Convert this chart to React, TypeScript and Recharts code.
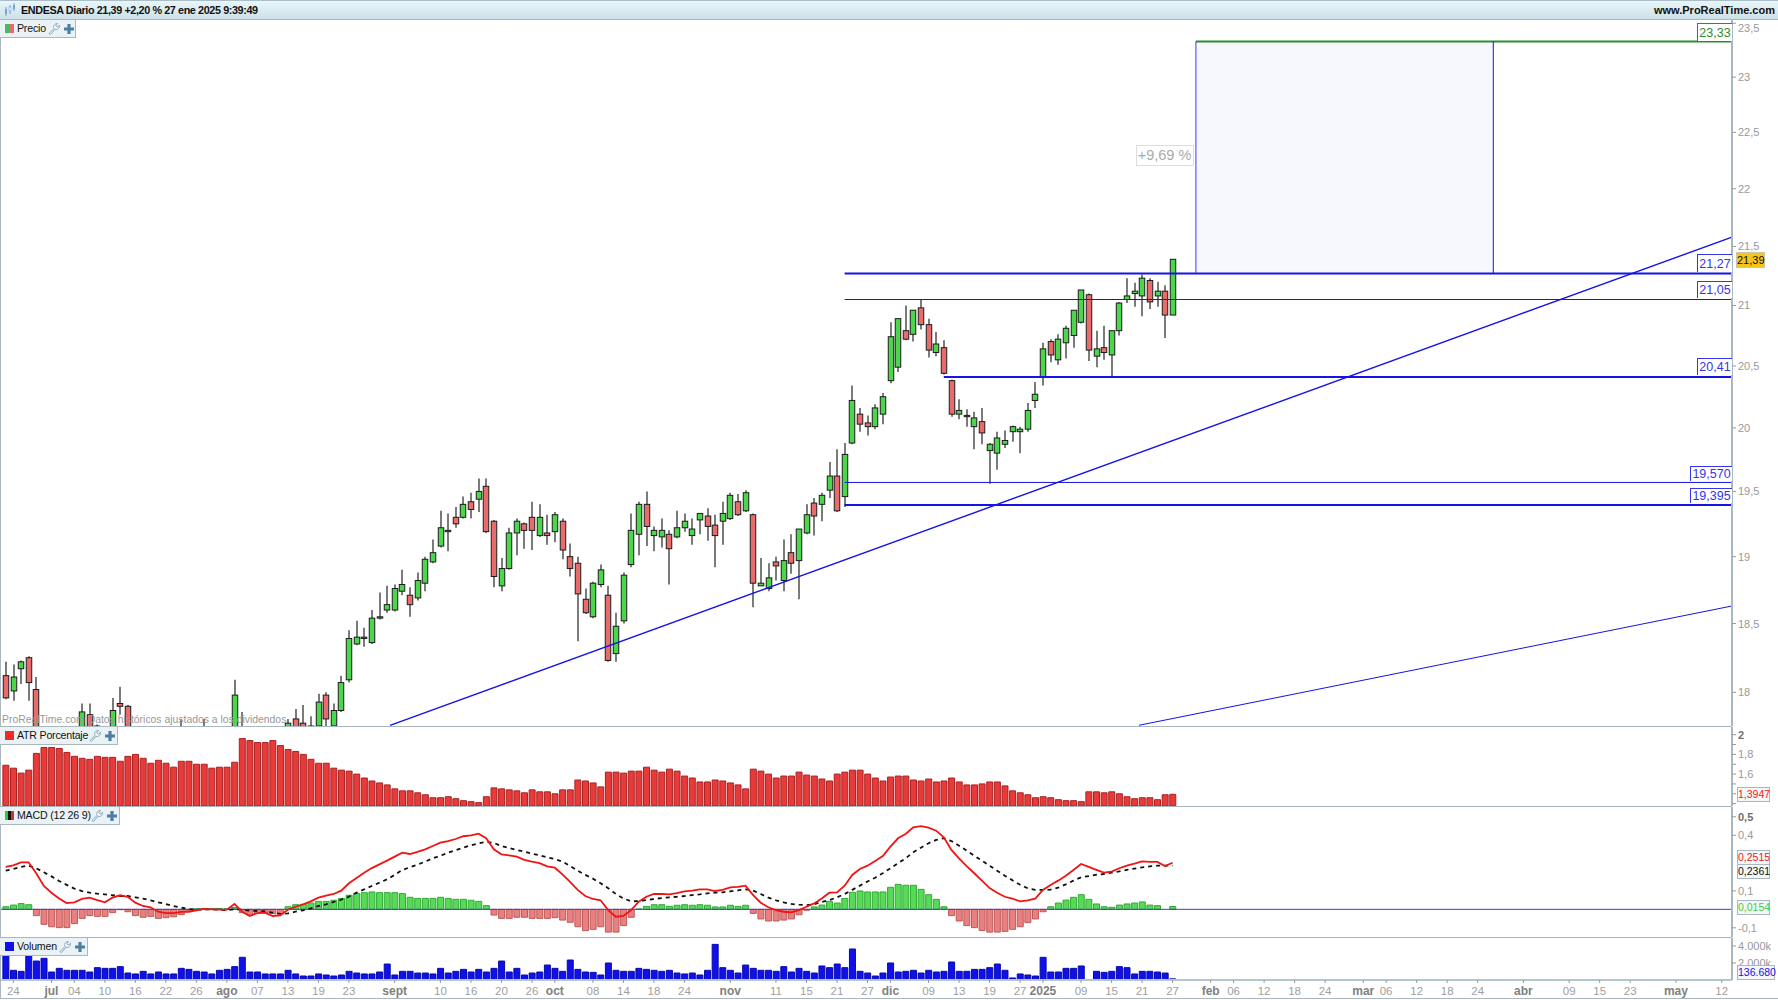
import React from "react";
import { ComposedChart, Bar, Line, XAxis, YAxis, Cell, ReferenceLine, ReferenceArea } from "recharts";

const opens = [
  18.12,18.01,18.17,18.25,18.02,17.60,17.50,17.55,17.45,17.52,
  17.70,17.84,17.76,17.65,17.62,17.92,17.90,17.70,17.60,17.55,
  17.62,17.58,17.66,17.58,17.70,17.62,17.60,17.72,17.66,17.60,
  17.68,17.72,17.66,17.60,17.56,17.62,17.60,17.68,17.81,17.78,
  17.70,17.76,17.98,17.76,17.87,18.09,18.35,18.39,18.36,18.54,
  18.60,18.60,18.74,18.71,18.69,18.80,18.96,19.08,19.19,19.30,
  19.30,19.42,19.44,19.54,19.27,18.78,18.91,19.18,19.25,19.30,
  19.16,19.18,19.19,19.27,19.00,18.95,18.68,18.55,18.79,18.71,
  18.28,18.52,18.94,19.17,19.40,19.16,19.15,19.17,19.15,19.22,
  19.16,19.28,19.31,19.24,19.27,19.29,19.42,19.35,19.32,18.78,
  18.76,18.96,18.82,19.03,18.97,19.18,19.41,19.40,19.51,19.62,
  19.46,19.88,20.11,20.04,20.01,20.11,20.38,20.49,20.79,20.76,
  20.98,20.84,20.61,20.65,20.38,20.11,20.09,20.01,20.05,19.82,
  19.80,19.87,19.97,19.97,19.99,20.22,20.41,20.70,20.55,20.69,
  20.75,20.86,21.09,20.58,20.65,20.59,20.79,21.05,21.10,21.08,
  21.21,21.08,21.12,20.92,
];
const closes = [
  17.96,18.11,18.22,18.07,17.65,17.50,17.55,17.45,17.52,17.60,
  17.86,17.75,17.68,17.60,17.87,17.90,17.70,17.60,17.55,17.62,
  17.58,17.66,17.60,17.70,17.62,17.60,17.72,17.66,17.60,17.66,
  17.98,17.66,17.60,17.56,17.62,17.60,17.66,17.78,17.70,17.68,
  17.76,17.93,17.81,17.87,18.07,18.39,18.40,18.40,18.54,18.55,
  18.64,18.76,18.79,18.64,18.82,18.98,19.03,19.22,19.20,19.25,
  19.40,19.36,19.50,19.19,18.85,18.91,19.18,19.27,19.20,19.20,
  19.30,19.16,19.32,19.05,18.91,18.72,18.58,18.80,18.90,18.23,
  18.48,18.86,19.20,19.40,19.23,19.20,19.20,19.06,19.22,19.27,
  19.21,19.33,19.23,19.16,19.33,19.47,19.32,19.49,18.80,18.80,
  18.84,18.93,18.97,18.95,19.21,19.32,19.31,19.47,19.62,19.35,
  19.79,20.22,20.03,20.01,20.16,20.25,20.74,20.89,20.72,20.96,
  20.84,20.63,20.68,20.44,20.11,20.14,20.10,20.08,19.96,19.87,
  19.92,19.90,20.01,19.99,20.14,20.27,20.64,20.59,20.72,20.81,
  20.96,21.13,20.63,20.64,20.61,20.79,21.02,21.08,21.12,21.23,
  21.03,21.12,20.92,21.39,
];
const highs = [
  18.22,18.20,18.23,18.26,18.11,17.68,17.60,17.62,17.58,17.66,
  17.92,17.92,17.77,17.72,17.96,18.04,17.91,17.74,17.70,17.68,
  17.72,17.70,17.73,17.81,17.75,17.70,17.81,17.74,17.73,17.70,
  18.09,17.86,17.72,17.70,17.68,17.72,17.70,17.81,17.88,17.91,
  17.83,17.99,18.00,17.92,18.12,18.45,18.52,18.47,18.60,18.73,
  18.78,18.79,18.90,18.77,18.88,19.00,19.13,19.35,19.33,19.38,
  19.46,19.49,19.60,19.60,19.28,18.99,19.22,19.29,19.26,19.42,
  19.40,19.32,19.34,19.29,19.10,19.00,18.76,18.81,18.94,18.78,
  18.58,18.88,19.33,19.42,19.50,19.23,19.29,19.20,19.35,19.33,
  19.29,19.33,19.37,19.32,19.42,19.49,19.48,19.51,19.33,18.99,
  18.95,19.00,19.13,19.17,19.21,19.40,19.45,19.49,19.73,19.83,
  19.88,20.34,20.16,20.10,20.19,20.28,20.86,20.89,21.00,20.96,
  21.05,20.89,20.78,20.71,20.39,20.23,20.15,20.13,20.16,19.88,
  19.97,19.98,20.02,20.01,20.20,20.37,20.69,20.72,20.76,20.83,
  20.96,21.13,21.10,20.79,20.83,20.79,21.03,21.23,21.19,21.26,
  21.23,21.20,21.17,21.39,
];
const lows = [
  17.95,17.94,18.06,17.94,17.60,17.45,17.40,17.42,17.38,17.44,
  17.65,17.70,17.60,17.55,17.58,17.84,17.66,17.55,17.50,17.48,
  17.52,17.50,17.55,17.50,17.55,17.52,17.55,17.60,17.55,17.50,
  17.62,17.60,17.55,17.50,17.48,17.52,17.50,17.62,17.65,17.62,
  17.64,17.72,17.70,17.75,17.86,18.07,18.34,18.33,18.35,18.53,
  18.58,18.59,18.71,18.55,18.67,18.74,18.95,19.07,19.04,19.22,
  19.29,19.29,19.34,19.18,18.77,18.74,18.90,19.01,19.06,19.05,
  19.15,19.09,19.11,18.98,18.85,18.37,18.57,18.54,18.77,18.22,
  18.22,18.50,18.92,19.01,19.08,19.04,19.07,18.79,19.14,19.19,
  19.09,19.17,19.12,18.92,19.09,19.28,19.31,19.34,18.62,18.78,
  18.74,18.82,18.74,18.87,18.68,19.17,19.16,19.27,19.45,19.34,
  19.38,19.87,19.97,19.94,19.99,20.03,20.36,20.45,20.71,20.70,
  20.80,20.57,20.58,20.43,20.09,20.07,20.01,19.83,19.87,19.56,
  19.67,19.84,19.89,19.80,19.97,20.16,20.34,20.53,20.51,20.56,
  20.65,20.85,20.54,20.49,20.55,20.41,20.75,21.02,20.99,20.91,
  20.97,20.99,20.73,20.92,
];
const atrValues = [
  1.69,1.66,1.61,1.64,1.81,1.87,1.87,1.86,1.82,1.78,
  1.76,1.75,1.78,1.77,1.77,1.73,1.78,1.80,1.76,1.71,
  1.74,1.71,1.67,1.73,1.73,1.70,1.70,1.66,1.67,1.67,
  1.72,1.96,1.94,1.92,1.92,1.94,1.89,1.85,1.83,1.80,
  1.75,1.71,1.71,1.66,1.64,1.63,1.60,1.56,1.53,1.51,
  1.49,1.45,1.43,1.43,1.41,1.39,1.36,1.36,1.37,1.35,
  1.33,1.32,1.31,1.37,1.46,1.45,1.44,1.43,1.41,1.44,
  1.42,1.42,1.40,1.44,1.44,1.54,1.53,1.51,1.47,1.62,
  1.62,1.61,1.63,1.63,1.67,1.64,1.62,1.65,1.63,1.58,
  1.56,1.52,1.52,1.54,1.53,1.51,1.49,1.45,1.65,1.63,
  1.60,1.56,1.58,1.58,1.62,1.59,1.58,1.55,1.53,1.60,
  1.62,1.64,1.64,1.60,1.56,1.53,1.57,1.58,1.58,1.54,
  1.53,1.55,1.52,1.53,1.56,1.52,1.49,1.49,1.50,1.52,
  1.52,1.48,1.43,1.41,1.39,1.36,1.37,1.36,1.34,1.33,
  1.33,1.32,1.42,1.42,1.41,1.42,1.40,1.37,1.35,1.36,
  1.36,1.34,1.39,1.3947,
];
const macdValues = [
  .229,.238,.254,.254,.195,.126,.090,.059,.034,.038,
  .056,.063,.050,.038,.063,.076,.068,.036,.018,.011,
  -.013,-.020,-.020,-.014,-.013,-.005,.002,0,-.002,-.002,
  .029,-.013,-.036,-.020,-.018,-.036,-.032,-.002,.014,.027,
  .043,.063,.074,.083,.101,.141,.169,.198,.223,.243,
  .263,.285,.306,.299,.310,.324,.342,.360,.369,.380,
  .395,.400,.409,.384,.324,.297,.292,.285,.267,.258,
  .250,.232,.225,.189,.148,.105,.072,.056,.049,-.004,
  -.040,-.036,-.004,.041,.068,.083,.083,.081,.088,.097,
  .101,.108,.108,.099,.105,.119,.121,.128,.077,.036,
  .011,-.004,-.013,-.016,-.004,.014,.032,.059,.090,.092,
  .128,.186,.218,.236,.261,.288,.339,.384,.407,.443,
  .450,.441,.425,.389,.321,.276,.234,.195,.155,.115,
  .090,.068,.058,.043,.049,.058,.105,.132,.155,.182,
  .213,.245,.229,.213,.198,.204,.222,.236,.247,.259,
  .256,.256,.234,.2515,
];
const signalValues = [
  .209,.218,.229,.236,.222,.200,.178,.153,.132,.112,
  .099,.090,.085,.081,.076,.072,.072,.065,.058,.049,
  .038,.029,.018,.009,.002,-.002,-.002,0,-.002,-.004,
  0,-.002,-.007,-.009,-.011,-.018,-.025,-.022,-.013,-.005,
  .005,.018,.027,.040,.052,.068,.090,.108,.126,.144,
  .162,.186,.213,.227,.241,.258,.276,.290,.306,.319,
  .333,.346,.357,.364,.359,.342,.332,.321,.312,.301,
  .292,.281,.272,.258,.234,.209,.186,.166,.141,.114,
  .083,.059,.043,.045,.050,.056,.061,.065,.068,.072,
  .077,.081,.086,.090,.092,.097,.103,.108,.101,.083,
  .063,.049,.038,.029,.025,.023,.027,.040,.050,.065,
  .083,.105,.128,.150,.171,.195,.222,.249,.276,.308,
  .333,.357,.375,.384,.369,.344,.317,.290,.263,.236,
  .209,.182,.157,.133,.114,.105,.105,.106,.117,.135,
  .155,.173,.180,.187,.191,.198,.205,.213,.220,.227,
  .232,.236,.236,.2361,
];
const histValues = [
  .014,.023,.031,.025,-.034,-.081,-.094,-.099,-.099,-.077,
  -.049,-.034,-.038,-.038,-.018,-.002,-.013,-.034,-.043,-.038,
  -.049,-.045,-.04,-.029,-.009,.003,.005,.003,.005,.003,
  .01,-.018,-.031,-.022,-.018,-.023,-.025,.014,.025,.027,
  .034,.043,.043,.049,.059,.076,.086,.09,.094,.09,
  .09,.09,.085,.065,.059,.059,.059,.065,.059,.054,
  .054,.049,.043,.02,-.031,-.049,-.049,-.043,-.043,-.049,
  -.049,-.049,-.045,-.058,-.07,-.094,-.115,-.108,-.094,-.123,
  -.123,-.088,-.043,.002,.016,.025,.025,.016,.022,.025,
  .022,.025,.022,.013,.013,.022,.016,.022,-.022,-.052,
  -.063,-.063,-.058,-.052,-.029,-.005,.013,.023,.043,.034,
  .059,.092,.099,.094,.094,.094,.119,.135,.13,.13,
  .108,.079,.054,.014,-.034,-.063,-.088,-.099,-.114,-.123,
  -.123,-.119,-.108,-.094,-.072,-.052,-.013,.014,.034,.05,
  .065,.079,.054,.029,.014,.011,.023,.029,.034,.04,
  .023,.02,0,.0154,
];
const volumeValues = [
  2860,1140,1020,2860,2230,2550,940,1370,1140,1140,
  1140,940,1450,1370,1370,1570,820,710,1020,710,
  940,710,710,1370,1250,1020,940,710,1140,1250,
  1570,2670,940,940,710,710,710,1140,710,470,
  470,710,590,470,590,1020,820,710,710,940,
  1880,590,1020,1020,820,820,710,1370,820,1020,
  1250,940,1250,940,1370,2230,940,1370,590,820,
  940,1760,1370,1020,2350,1250,940,900,590,2000,
  1140,1020,1020,1370,1250,1140,1020,1140,820,710,
  820,590,1140,4190,1450,1140,820,1760,1370,1140,
  1140,1020,1570,940,1370,1020,820,1650,1450,1880,
  1450,3650,1020,820,470,820,2000,940,1020,1140,
  820,1140,940,1020,2120,1020,1020,1250,1250,1450,
  1880,1140,240,710,590,470,2670,940,940,1370,
  1370,1650,40,1020,900,1020,1570,1450,710,1020,
  1020,940,820,136.68,
];

const xTickIndex = [1,6,9,13,17,21,25,29,33,37,41,45,51,57,61,65,69,72,77,81,85,89,95,101,105,109,113,116,121,125,129,133,136,141,145,149,153,158,161,165,169,173,178,181,185,189,193,199,205,209,213,219,225];
const xTickText = ["24","jul","04","10","16","22","26","ago","07","13","19","23","sept","10","16","20","26","oct","08","14","18","24","nov","11","15","21","27","dic","09","13","19","27","2025","09","15","21","27","feb","06","12","18","24","mar","06","12","18","24","abr","09","15","23","may","12"];
const boldTicks = ["jul","ago","sept","oct","nov","dic","2025","feb","mar","abr","may"];

const priceTicks = [18,18.5,19,19.5,20,20.5,21,21.5,22,22.5,23,23.5];
const atrTicks = [1.3,1.4,1.5,1.6,1.7,1.8,1.9,2];
const atrLabelled = [1.6,1.8,2];
const macdTicks = [-0.1,0.1,0.4,0.5];
const volTicks = [2000,4000];

const priceDomain = [17.76, 23.53];
const xDomain = [-0.747, 226.35];
const lastX = xDomain[1];

const levelStart = 110;
const levels = [
  { v: 21.27, w: 2, from: levelStart },
  { v: 21.05, w: 1, from: levelStart },
  { v: 20.41, w: 2, from: 123 },
  { v: 19.57, w: 1, from: levelStart },
  { v: 19.395, w: 2, from: levelStart },
];
const targetHigh = 23.33;
const targetLow = 21.27;
const targetFrom = 156.06;
const targetTo = 195.05;

const candleRows = opens.map((o, i) => ({ i, open: o, high: highs[i], low: lows[i], close: closes[i], range: [lows[i], highs[i]] }));
const atrRows = atrValues.map((v, i) => ({ i, v }));
const macdRows = macdValues.map((m, i) => ({ i, macd: m, signal: signalValues[i], hist: histValues[i] }));
const volRows = volumeValues.map((v, i) => ({ i, v }));

const FONT = "'Liberation Sans', Arial, sans-serif";
const W = 1778;
const AXIS = "#A9B8BE";

function Candle(props: any) {
  const { x, y, width, height, payload } = props;
  if (!payload) return null;
  const top = Math.min(y, y + height);
  const H = Math.abs(height);
  const span = Math.log(payload.high) - Math.log(payload.low);
  const at = (v: number) => top + (H * (Math.log(payload.high) - Math.log(v))) / span;
  const cx = Math.round(x + width / 2);
  const up = payload.close >= payload.open;
  const bodyTop = at(Math.max(payload.open, payload.close));
  const bodyBottom = at(Math.min(payload.open, payload.close));
  return (
    <g>
      <line x1={cx} x2={cx} y1={top} y2={top + H} stroke="#222" strokeWidth={1.2} />
      <rect x={cx - 2.75} y={bodyTop} width={5.5} height={Math.max(bodyBottom - bodyTop, 0.6)} fill={up ? "#4BD64B" : "#E96C6C"} stroke="#1c1c1c" strokeWidth={1} />
    </g>
  );
}

function XTick(props: any) {
  const { x, y, payload } = props;
  const label = xTickText[xTickIndex.indexOf(payload.value)];
  const bold = boldTicks.includes(label);
  return (
    <text x={x} y={y + 10} textAnchor="middle" fontFamily={FONT} fontSize={bold ? 12 : 11.5} fontWeight={bold ? 700 : 400} fill={bold ? "#808080" : "#A0A0A0"}>
      {label}
    </text>
  );
}

function YTick(props: any) {
  const { x, y, payload, labelled, boldValue, format, clampTop } = props;
  const v = payload.value;
  if (labelled && !labelled.includes(v)) return null;
  const bold = v === boldValue;
  const ty = clampTop && y < 8 ? y + 9 : y + 4;
  return (
    <text x={x} y={ty} fontFamily={FONT} fontSize={11} fontWeight={bold ? 700 : 400} fill={bold ? "#707070" : "#999"}>
      {format ? format(v) : String(v).replace(".", ",")}
    </text>
  );
}

function Wrench() {
  return (
    <svg width="13" height="13" viewBox="0 0 13 13" style={{ position: "absolute", top: 2 }}>
      <path d="M1 11.5 L6 6.5 C5 4 6.5 1.5 9.5 1.5 L7.8 3.6 L9.2 5.2 L11.5 3.4 C11.8 6.4 9.5 8 7 7.2 L2.5 12.5 Z" fill="#fff" stroke="#7FA3BB" strokeWidth="1" />
    </svg>
  );
}
function Plus() {
  return (
    <svg width="10" height="10" viewBox="0 0 10 10" style={{ position: "absolute", top: 3.5 }}>
      <path d="M3.4 0 H6.6 V3.4 H10 V6.6 H6.6 V10 H3.4 V6.6 H0 V3.4 H3.4 Z" fill="#4E7FA3" />
    </svg>
  );
}

function Legend({ top, width, text, textWidth, icon }: any) {
  return (
    <div style={{ position: "absolute", left: 0, top, width, height: 17, background: "#EAF2F5", borderRight: "1px solid #A9B8BE", borderBottom: "1px solid #A9B8BE", zIndex: 5 }}>
      <div style={{ position: "absolute", left: 5, top: 4, width: 9, height: 9, display: "flex" }}>{icon}</div>
      <span style={{ position: "absolute", left: 17, top: 2, font: `10.6px ${FONT}`, letterSpacing: "-0.2px", color: "#111", whiteSpace: "nowrap" }}>{text}</span>
      <div style={{ position: "absolute", left: textWidth + 20, top: 0 }}><Wrench /></div>
      <div style={{ position: "absolute", left: textWidth + 36, top: 0 }}><Plus /></div>
    </div>
  );
}

function Swatch({ colors }: any) {
  return <>{colors.map((c: string, k: number) => <span key={k} style={{ flex: 1, background: c, height: 9 }} />)}</>;
}

function LevelTag({ top, left, height, text, color }: any) {
  return (
    <div style={{ position: "absolute", left, top, width: 1732 - left, height, background: "#fff", border: `1px solid ${color}`, borderRight: "none", borderBottom: "none", boxSizing: "border-box", font: `12.5px ${FONT}`, color, textAlign: "center", lineHeight: `${height}px`, zIndex: 4 }}>
      {text}
    </div>
  );
}

function ValueTag({ top, width, text, color }: any) {
  return (
    <div style={{ position: "absolute", left: 1737, top, width, height: 15, background: "#F4F6F7", border: "1px solid #A9B8BE", boxSizing: "border-box", font: `10.5px ${FONT}`, color, textAlign: "center", lineHeight: "13px", zIndex: 4 }}>
      {text}
    </div>
  );
}

function Panel({ top, height, children }: any) {
  return <div style={{ position: "absolute", left: 0, top, width: W, height, overflow: "hidden" }}>{children}</div>;
}

const hiddenX = <XAxis type="number" dataKey="i" domain={xDomain} allowDataOverflow hide />;

export default function App() {
  return (
    <div style={{ position: "absolute", left: 0, top: 0, width: W, height: 1000, background: "#fff", overflow: "hidden", fontFamily: FONT }}>
      <style>{"html,body{margin:0;overflow:hidden}"}</style>

      <div style={{ position: "absolute", left: 0, top: 0, width: W, height: 20, background: "linear-gradient(#E9F6FA,#CCE1E8)", borderTop: "1px solid #A9BEC8", borderBottom: "1px solid #A9B8BE", boxSizing: "border-box", zIndex: 6 }}>
        <svg width="14" height="14" style={{ position: "absolute", left: 4, top: 2 }} viewBox="0 0 14 14">
          <path d="M2 4V13M6 2V11M10 0V8" stroke="#6FA3D8" strokeWidth="1" />
          <rect x="1" y="6" width="2" height="5" fill="#6FA3D8" /><rect x="5" y="4" width="2" height="4" fill="#fff" stroke="#6FA3D8" strokeWidth=".6" /><rect x="9" y="2" width="2" height="4" fill="#6FA3D8" />
        </svg>
        <span style={{ position: "absolute", left: 21, top: 3, font: `bold 10.8px ${FONT}`, letterSpacing: "-0.39px", color: "#111", whiteSpace: "nowrap" }}>ENDESA Diario 21,39 +2,20 % 27 ene 2025 9:39:49</span>
        <span style={{ position: "absolute", right: 3, top: 3, font: `bold 11px ${FONT}`, color: "#111" }}>www.ProRealTime.com</span>
      </div>

      <Panel top={20} height={706}>
        <ComposedChart width={W} height={706} data={candleRows} margin={{ top: 0, right: 0, bottom: 0, left: 0 }}>
          {hiddenX}
          <YAxis orientation="right" width={46} type="number" scale="log" domain={priceDomain} allowDataOverflow ticks={priceTicks} interval={0} axisLine={{ stroke: AXIS, strokeWidth: 2 }} tickLine={{ stroke: "#999" }} tickSize={4} tick={<YTick clampTop />} />
          <ReferenceArea x1={targetFrom} x2={targetTo} y1={targetLow} y2={targetHigh} fill="#F7F8FE" fillOpacity={1} stroke="none" />
          <Bar dataKey="range" barSize={6} shape={<Candle />} isAnimationActive={false} />
          {levels.map((l) => (
            <ReferenceLine key={l.v} segment={[{ x: l.from, y: l.v }, { x: lastX, y: l.v }]} stroke="#1414E6" strokeWidth={l.w} />
          ))}
          <ReferenceLine segment={[{ x: targetFrom, y: targetHigh }, { x: lastX, y: targetHigh }]} stroke="#2E8B2E" strokeWidth={2} />
          <ReferenceLine segment={[{ x: targetFrom, y: targetLow }, { x: targetFrom, y: targetHigh }]} stroke="#3A3AF0" strokeWidth={1} />
          <ReferenceLine segment={[{ x: targetTo, y: targetLow }, { x: targetTo, y: targetHigh }]} stroke="#1414E6" strokeWidth={1} />
          <ReferenceLine segment={[{ x: 50.4, y: 17.765 }, { x: lastX, y: 21.58 }]} stroke="#1414E6" strokeWidth={1.4} />
          <ReferenceLine segment={[{ x: 148.6, y: 17.765 }, { x: lastX, y: 18.63 }]} stroke="#1414E6" strokeWidth={1} />
        </ComposedChart>
      </Panel>

      <div style={{ position: "absolute", left: 2, top: 714, font: `10.4px ${FONT}`, color: "#999", whiteSpace: "nowrap", zIndex: 3 }}>ProRealTime.com Datos históricos ajustados a los dividendos</div>

      <div style={{ position: "absolute", left: 1135.5, top: 145, width: 58, height: 21, border: "1px solid #DDD", boxSizing: "border-box", background: "#fff", font: `14.5px ${FONT}`, color: "#AAA", textAlign: "center", lineHeight: "19px", zIndex: 4 }}>+9,69 %</div>
      <LevelTag left={1697} top={23} height={18} text="23,33" color="#2E8B2E" />
      <LevelTag left={1697} top={254} height={18} text="21,27" color="#3535EE" />
      <LevelTag left={1697} top={281} height={17} text="21,05" color="#3535EE" />
      <LevelTag left={1697} top={358} height={17} text="20,41" color="#3535EE" />
      <LevelTag left={1690} top={466} height={15} text="19,570" color="#3535EE" />
      <LevelTag left={1690} top={488} height={15} text="19,395" color="#3535EE" />
      <div style={{ position: "absolute", left: 1736, top: 252, width: 29, height: 16, background: "#F5C518", border: "1px solid #C8C8A8", boxSizing: "border-box", font: `11px ${FONT}`, color: "#111", textAlign: "center", lineHeight: "14px", zIndex: 4 }}>21,39</div>

      <div style={{ position: "absolute", left: 0, top: 726, width: 1732, height: 1, background: AXIS, zIndex: 3 }} />
      <Panel top={727} height={79}>
        <ComposedChart width={W} height={79} data={atrRows} margin={{ top: 0, right: 0, bottom: 0, left: 0 }}>
          {hiddenX}
          <YAxis orientation="right" width={46} type="number" domain={[1.276, 2.078]} allowDataOverflow ticks={atrTicks} interval={0} axisLine={{ stroke: AXIS, strokeWidth: 2 }} tickLine={{ stroke: "#999" }} tickSize={4} tick={<YTick labelled={atrLabelled} boldValue={2} />} />
          <Bar dataKey="v" barSize={6} fill="#E93A3A" stroke="#A82222" strokeWidth={1} isAnimationActive={false} />
        </ComposedChart>
      </Panel>

      <div style={{ position: "absolute", left: 0, top: 806, width: 1732, height: 1, background: AXIS, zIndex: 3 }} />
      <Panel top={807} height={130}>
        <ComposedChart width={W} height={130} data={macdRows} margin={{ top: 0, right: 0, bottom: 0, left: 0 }}>
          {hiddenX}
          <YAxis orientation="right" width={46} type="number" domain={[-0.1495, 0.553]} allowDataOverflow ticks={macdTicks} interval={0} axisLine={{ stroke: AXIS, strokeWidth: 2 }} tickLine={{ stroke: "#999" }} tickSize={4} tick={<YTick boldValue={0.5} />} />
          <Bar dataKey="hist" barSize={6} strokeWidth={1} isAnimationActive={false}>
            {macdRows.map((r) => (
              <Cell key={r.i} fill={r.hist >= 0 ? "#55DB55" : "#E97F7F"} stroke={r.hist >= 0 ? "#35A835" : "#BE5A5A"} />
            ))}
          </Bar>
          <ReferenceLine y={0} stroke="#3A3AE0" strokeWidth={1} />
          <Line dataKey="signal" type="linear" stroke="#111" strokeWidth={1.8} strokeDasharray="4 4" dot={false} isAnimationActive={false} />
          <Line dataKey="macd" type="linear" stroke="#F01414" strokeWidth={1.8} dot={false} isAnimationActive={false} />
        </ComposedChart>
      </Panel>

      <div style={{ position: "absolute", left: 0, top: 937, width: 1732, height: 1, background: AXIS, zIndex: 3 }} />
      <Panel top={938} height={62}>
        <ComposedChart width={W} height={62} data={volRows} margin={{ top: 0, right: 0, bottom: 0, left: 0 }}>
          <XAxis type="number" dataKey="i" domain={xDomain} allowDataOverflow ticks={xTickIndex} interval={0} height={20} axisLine={{ stroke: "#B4C6CE", strokeWidth: 2 }} tickLine={{ stroke: "#999" }} tickSize={3} tick={<XTick />} />
          <YAxis orientation="right" width={46} type="number" domain={[0, 4941]} allowDataOverflow ticks={volTicks} interval={0} axisLine={{ stroke: AXIS, strokeWidth: 2 }} tickLine={{ stroke: "#999" }} tickSize={4} tick={<YTick format={(v: number) => `${v / 1000}.000k`} />} />
          <Bar dataKey="v" barSize={6} fill="#1010E8" stroke="#0A0AA8" strokeWidth={1} isAnimationActive={false} />
        </ComposedChart>
      </Panel>

      <ValueTag top={786.5} width={33} text="1,3947" color="#EE2222" />
      <ValueTag top={849.5} width={33} text="0,2515" color="#EE2222" />
      <ValueTag top={864} width={33} text="0,2361" color="#111" />
      <ValueTag top={900} width={33} text="0,0154" color="#3FCF3F" />
      <ValueTag top={965} width={38} text="136.680" color="#1414E6" />

      <div style={{ position: "absolute", left: 0, top: 20, width: 1, height: 978, background: AXIS, zIndex: 5 }} />
      <div style={{ position: "absolute", left: 0, top: 998, width: W, height: 1, background: AXIS, zIndex: 5 }} />

      <Legend top={20} width={75} text="Precio" textWidth={28} icon={<Swatch colors={["#3FBF5F", "#E86A6A"]} />} />
      <Legend top={727} width={117} text="ATR Porcentaje" textWidth={69} icon={<Swatch colors={["#EE2A2A"]} />} />
      <Legend top={807} width={119} text="MACD (12 26 9)" textWidth={71} icon={<Swatch colors={["#3FBF3F", "#111", "#D03030"]} />} />
      <Legend top={938} width={87} text="Volumen" textWidth={39} icon={<Swatch colors={["#1010E8"]} />} />
    </div>
  );
}
